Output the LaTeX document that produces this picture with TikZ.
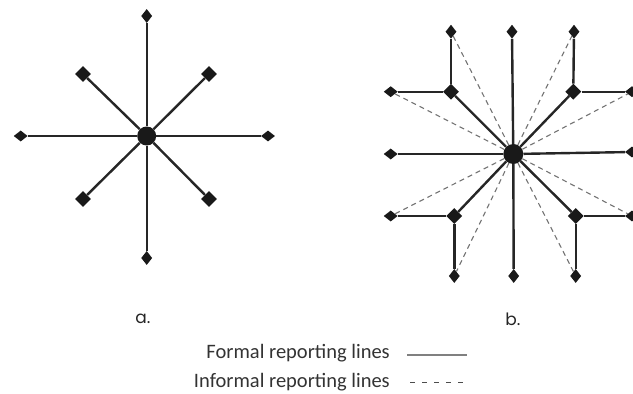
\documentclass[tikz,border=0pt]{standalone}
\usepackage{fontspec}
\setmainfont{Carlito}
\newfontfamily\labfont{Poppins}
\usetikzlibrary{shapes.geometric}
\tikzset{
  x=1pt, y=-1pt,
  hub/.style={circle, fill=black!90, inner sep=0pt, minimum size=19pt},
  vend/.style={diamond, fill=black!90, inner sep=0pt, minimum width=11pt, minimum height=14pt},
  hend/.style={diamond, fill=black!90, inner sep=0pt, minimum width=14pt, minimum height=11pt},
  bigd/.style={diamond, fill=black!90, inner sep=0pt, minimum width=16pt, minimum height=16pt},
  formal/.style={draw=black!85, line width=2.4pt},
  informal/.style={draw=black!55, line width=1.1pt, dash pattern=on 5pt off 4pt},
  lab/.style={font=\labfont\fontsize{17}{19}\selectfont, text=black!85},
  legtext/.style={font=\fontsize{20.5}{23}\selectfont, text=black!80, anchor=east, inner sep=0pt}
}
\begin{document}
\begin{tikzpicture}
\useasboundingbox (0,0) rectangle (633,394);
% ---- diagram a ----
\node[hub] (ac) at (146.7,136) {};
\node[vend] (at) at (146.7,16) {};
\node[vend] (ab) at (146.7,258) {};
\node[hend] (al) at (20.7,136) {};
\node[hend] (ar) at (268,136) {};
\node[bigd] (aul) at (83,74) {};
\node[bigd] (aur) at (209,74) {};
\node[bigd] (all) at (83,199) {};
\node[bigd] (alr) at (209,199) {};
\foreach \n in {at,ab,al,ar,aul,aur,all,alr}
  \draw[formal] (ac) -- (\n);
% ---- diagram b ----
\node[hub, minimum size=20pt] (bc) at (513.3,154) {};
\node[vend] (bt) at (512,31.7) {};
\node[vend] (bb) at (513.7,276) {};
\node[hend] (bl) at (390.7,154) {};
\node[hend] (br) at (632,152) {};
\node[bigd] (kul) at (451,91.7) {};
\node[bigd] (kur) at (573.3,91.7) {};
\node[bigd] (kll) at (454.3,216) {};
\node[bigd] (klr) at (575.7,216) {};
\node[vend] (tl) at (451,31.7) {};
\node[vend] (tr) at (574,31.7) {};
\node[hend] (lu) at (390.7,91.7) {};
\node[hend] (ru) at (632,91.7) {};
\node[hend] (ld) at (390.7,216) {};
\node[hend] (rd) at (632,216) {};
\node[vend] (bl2) at (454.3,276) {};
\node[vend] (br2) at (575.7,276) {};
\foreach \n in {tl,tr,lu,ru,ld,rd,bl2,br2}
  \draw[informal] (bc) -- (\n);
\foreach \n in {bt,bb,bl,br,kul,kur,kll,klr}
  \draw[formal] (bc) -- (\n);
\draw[formal] (kul) -- (tl);
\draw[formal] (kul) -- (lu);
\draw[formal] (kur) -- (tr);
\draw[formal] (kur) -- (ru);
\draw[formal] (kll) -- (ld);
\draw[formal] (kll) -- (bl2);
\draw[formal] (klr) -- (rd);
\draw[formal] (klr) -- (br2);
% ---- labels ----
\node[lab] (la) at (143,319) {a.};
\node[lab] (lb) at (513,319) {b.};
% ---- legend ----
\node[legtext] (f) at (390,353) {Formal reporting lines};
\node[legtext] (i) at (390,382) {Informal reporting lines};
\coordinate (f1) at (407,355);
\coordinate (f2) at (467,355);
\coordinate (i1) at (410,382);
\coordinate (i2) at (463,382);
\draw[draw=black!50, line width=1.8pt] (f1) -- (f2);
\draw[draw=black!70, line width=1pt, dash pattern=on 5pt off 7pt] (i1) -- (i2);
\end{tikzpicture}
\end{document}
